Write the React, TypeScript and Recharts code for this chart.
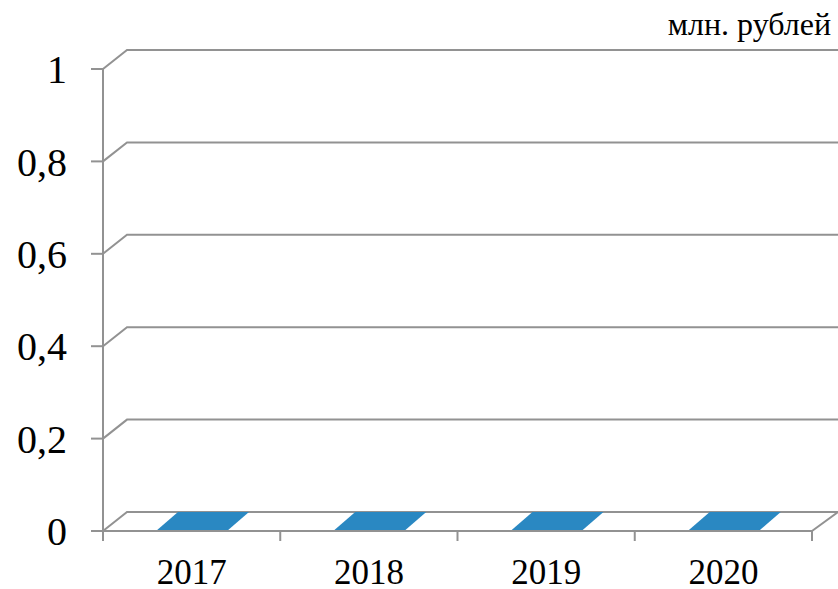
import React from "react";
import { BarChart, Bar, XAxis, YAxis, CartesianGrid } from "recharts";

const years = ["2017", "2018", "2019", "2020"];
const values = [0, 0, 0, 0];
const yTicks = [0, 0.2, 0.4, 0.6, 0.8, 1];
const unitLabel = "млн. рублей";

const data = years.map((year, i) => ({ pos: i + 0.5, year, value: values[i] }));
const xTicks = [0, 0.5, 1, 1.5, 2, 2.5, 3, 3.5, 4];

const W = 838;
const H = 589;
const DX = 24;
const DY = 19;
const GRID = "#929292";
const FONT = "'Liberation Serif', 'Times New Roman', serif";
const MARGIN = { top: 69, right: 26, bottom: 0, left: 0 };
const BOTTOM_Y = 531;

const gridLine = (props: any) => {
  const { x1, y1, x2 } = props;
  let d = `M ${x1} ${y1} L ${x1 + DX} ${y1 - DY} L ${x2 + DX + 2} ${y1 - DY}`;
  if (Math.abs(y1 - BOTTOM_Y) < 2) {
    d += ` L ${x2} ${y1}`;
  }
  return <path key={props.key ?? `g-${y1}`} d={d} stroke={GRID} strokeWidth={2} fill="none" />;
};

const FloorBar = (props: any) => {
  const { x, y, width, height } = props;
  const by = y + height;
  const d = `M ${x} ${by} L ${x + width} ${by} L ${x + width + DX - 2} ${by - DY} L ${x + DX - 2} ${by - DY} Z`;
  return <path d={d} fill="#2A88C2" stroke="none" />;
};

const XTick = (props: any) => {
  const { x, y, payload } = props;
  const v = payload.value as number;
  if (Number.isInteger(v)) {
    return <line x1={x} y1={y} x2={x} y2={y + 10} stroke={GRID} strokeWidth={2} />;
  }
  return (
    <text x={x} y={y + 53} textAnchor="middle" fontSize={35} fontFamily={FONT} fill="#000">
      {years[Math.floor(v)]}
    </text>
  );
};

export default function App() {
  return (
    <div style={{ position: "absolute", left: 0, top: 0, width: W, height: H, background: "#fff" }}>
      <div
        style={{
          position: "absolute",
          right: 7,
          top: 8,
          fontSize: 32,
          lineHeight: "32px",
          fontFamily: FONT,
          color: "#000",
          whiteSpace: "nowrap",
        }}
      >
        {unitLabel}
      </div>
      <BarChart width={W} height={H} data={data} margin={MARGIN}>
        <CartesianGrid vertical={false} horizontal={gridLine} />
        <XAxis
          dataKey="pos"
          type="number"
          domain={[0, 4]}
          ticks={xTicks}
          interval={0}
          allowDataOverflow
          height={58}
          tickSize={0}
          tickMargin={0}
          tickLine={false}
          axisLine={{ stroke: GRID, strokeWidth: 2 }}
          tick={<XTick />}
        />
        <YAxis
          domain={[0, 1]}
          ticks={yTicks}
          interval={0}
          width={103}
          tickSize={12}
          tickMargin={24}
          tickLine={{ stroke: GRID, strokeWidth: 2 }}
          axisLine={{ stroke: GRID, strokeWidth: 2 }}
          tickFormatter={(v: number) => String(v).replace(".", ",")}
          tick={{ fontSize: 40, fontFamily: FONT, fill: "#000" }}
        />
        <Bar dataKey="value" barSize={71} shape={<FloorBar />} isAnimationActive={false} />
      </BarChart>
    </div>
  );
}
